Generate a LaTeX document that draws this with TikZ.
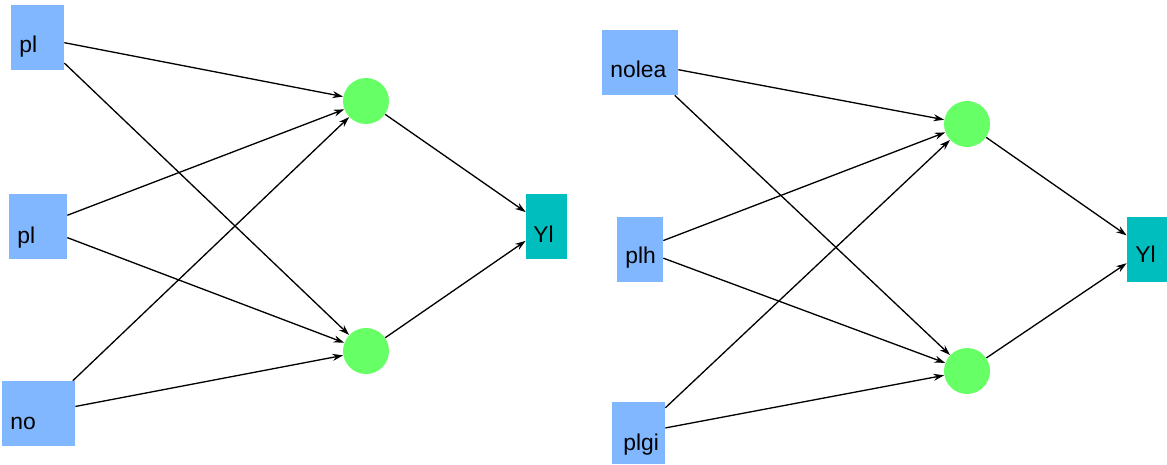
\documentclass[tikz,border=0pt]{standalone}
\usepackage{fontspec}
\setmainfont{Liberation Sans}
\usetikzlibrary{arrows.meta}
\definecolor{inblue}{RGB}{128,183,255}
\definecolor{hidgreen}{RGB}{102,255,102}
\definecolor{outteal}{RGB}{0,190,190}
\tikzset{
	inbox/.style={fill=inblue, inner sep=0pt},
	hid/.style={circle, fill=hidgreen, inner sep=0pt, minimum size=0.92cm},
	outbox/.style={fill=outteal, inner sep=0pt},
	lbl/.style={anchor=base west, inner sep=0pt, font=\fontsize{13}{15}\selectfont},
	wire/.style={line width=0.75pt, -{Stealth[length=6pt,width=4pt]}}
}
\begin{document}
\begin{tikzpicture}[x=0.02cm, y=-0.02cm]
			%%%%% START %%%%%
			\useasboundingbox (0, 0) rectangle (1167, 464);
			
			% left net
			\node[inbox, minimum width=1.06cm, minimum height=1.3cm] (pa) at (37.5, 37.5) {};
			\node[inbox, minimum width=1.16cm, minimum height=1.3cm] (pb) at (38, 226.5) {};
			\node[inbox, minimum width=1.46cm, minimum height=1.3cm] (no) at (38.5, 413.5) {};
			\node[lbl] (pa-t) at (19, 52) {pl};
			\node[lbl] (pb-t) at (17, 243) {pl};
			\node[lbl] (no-t) at (10, 429) {no};
			
			\node[hid] (h1) at (366, 101) {};
			\node[hid] (h2) at (366, 351) {};
			
			\node[outbox, minimum width=0.82cm, minimum height=1.3cm] (y1) at (546.5, 226.5) {};
			\node[lbl] (y1-t) at (533, 242) {Yl};
			
			\draw[wire] (pa) -- (h1);
			\draw[wire] (pa) -- (h2);
			\draw[wire] (pb) -- (h1);
			\draw[wire] (pb) -- (h2);
			\draw[wire] (no) -- (h1);
			\draw[wire] (no) -- (h2);
			\draw[wire] (h1) -- (y1);
			\draw[wire] (h2) -- (y1);
			
			% right net
			\node[inbox, minimum width=1.52cm, minimum height=1.3cm] (nolea) at (640, 62.5) {};
			\node[inbox, minimum width=0.92cm, minimum height=1.3cm] (plh) at (640, 249.5) {};
			\node[inbox, minimum width=1.06cm, minimum height=1.24cm] (plgi) at (638.5, 433) {};
			\node[lbl] (nolea-t) at (610, 77) {nolea};
			\node[lbl] (plh-t) at (625, 263) {plh};
			\node[lbl] (plgi-t) at (623, 450) {plgi};
			
			\node[hid] (h3) at (967, 124) {};
			\node[hid] (h4) at (967, 371) {};
			
			\node[outbox, minimum width=0.8cm, minimum height=1.3cm] (y2) at (1147, 249.5) {};
			\node[lbl] (y2-t) at (1135, 262) {Yl};
			
			\draw[wire] (nolea) -- (h3);
			\draw[wire] (nolea) -- (h4);
			\draw[wire] (plh) -- (h3);
			\draw[wire] (plh) -- (h4);
			\draw[wire] (plgi) -- (h3);
			\draw[wire] (plgi) -- (h4);
			\draw[wire] (h3) -- (y2);
			\draw[wire] (h4) -- (y2);
			
			%%%%% END %%%%%
		\end{tikzpicture}
\end{document}
